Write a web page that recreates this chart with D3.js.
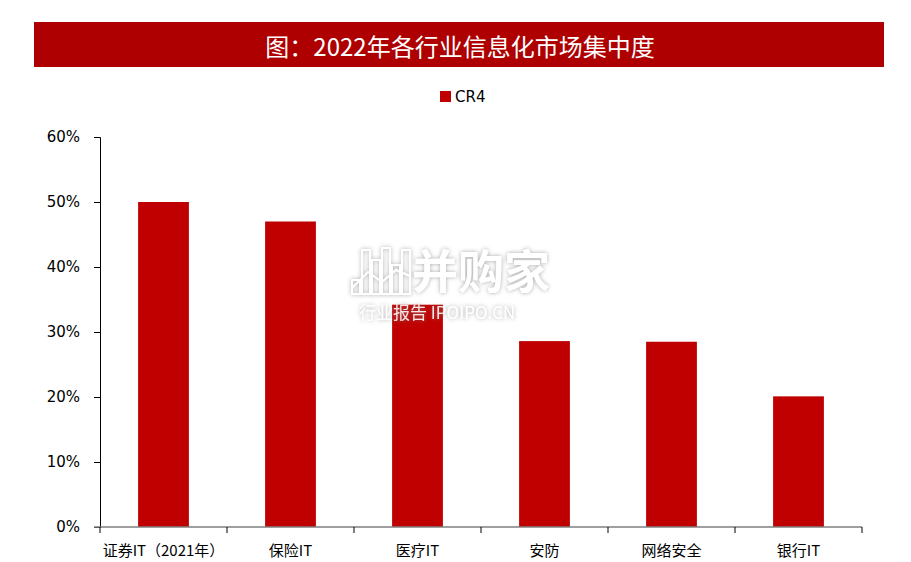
<!DOCTYPE html>
<html>
<head>
<meta charset="utf-8">
<script src="https://cdn.jsdelivr.net/npm/d3@7"></script>
<style>
  html, body { margin: 0; padding: 0; background: #fff; }
  svg { display: block; }
</style>
</head>
<body>
<svg id="chart" width="911" height="562"></svg>
<script>
const title = "图：2022年各行业信息化市场集中度";
const seriesName = "CR4";
const categories = ["证券IT（2021年）", "保险IT", "医疗IT", "安防", "网络安全", "银行IT"];
const values = [0.50, 0.47, 0.342, 0.286, 0.285, 0.201];
const yTicks = [0, 0.1, 0.2, 0.3, 0.4, 0.5, 0.6];

const svg = d3.select("#chart");
const red = "#C00000";
const bannerRed = "#AE0000";
const cjk = "'Noto Sans CJK SC', 'Noto Sans', sans-serif";

// Title banner
svg.append("rect").attr("x", 34).attr("y", 22).attr("width", 850).attr("height", 45).attr("fill", bannerRed);
svg.append("text").attr("x", 460).attr("y", 45).attr("text-anchor", "middle").attr("dominant-baseline", "central")
  .attr("fill", "#fff").attr("font-family", cjk).attr("font-size", 24).text(title);

// Legend
svg.append("rect").attr("x", 440).attr("y", 91).attr("width", 11).attr("height", 11).attr("fill", red);
svg.append("text").attr("x", 455).attr("y", 97).attr("dominant-baseline", "central")
  .attr("font-family", "'DejaVu Sans', sans-serif").attr("font-size", 15).attr("fill", "#000").text(seriesName);

const x = d3.scaleBand().domain(categories).range([100, 862]).paddingInner(0.6).paddingOuter(0.3);
const y = d3.scaleLinear().domain([0, 0.6]).range([527, 137]);

// Bars
svg.append("g").selectAll("rect").data(values).join("rect")
  .attr("x", (d, i) => x(categories[i]))
  .attr("y", d => y(d))
  .attr("width", x.bandwidth())
  .attr("height", d => y(0) - y(d))
  .attr("fill", red);

// Y axis
const yAxis = svg.append("g").attr("transform", "translate(100,0)")
  .call(d3.axisLeft(y).tickValues(yTicks).tickFormat(d3.format(".0%")).tickSizeOuter(0).tickSize(6).tickPadding(14));
yAxis.select(".domain").attr("stroke", "#000");
yAxis.selectAll(".tick line").attr("stroke", "#000");
yAxis.selectAll("text").attr("font-family", "'DejaVu Sans', sans-serif").attr("font-size", 15).attr("fill", "#000");

// X axis
const xAxisG = svg.append("g").attr("transform", "translate(0,527)");
xAxisG.append("line").attr("x1", 94).attr("x2", 862).attr("y1", 0).attr("y2", 0).attr("stroke", "#7f7f7f").attr("stroke-width", 1.5);
const bounds = categories.map(c => x(c) - x.step() * x.paddingInner() / 2).concat([862]);
bounds[0] = 100;
xAxisG.selectAll("line.tk").data(bounds).join("line").attr("class", "tk")
  .attr("x1", d => d).attr("x2", d => d).attr("y1", 0).attr("y2", 6).attr("stroke", "#000");
xAxisG.selectAll("text").data(categories).join("text")
  .attr("x", d => x(d) + x.bandwidth() / 2)
  .attr("y", 22).attr("text-anchor", "middle").attr("dominant-baseline", "central")
  .attr("font-family", cjk).attr("font-size", 15).attr("fill", "#000").text(d => d);

// Watermark
const defs = svg.append("defs");
const f = defs.append("filter").attr("id", "sh").attr("x", "-20%").attr("y", "-20%").attr("width", "140%").attr("height", "140%");
f.append("feDropShadow").attr("dx", 0).attr("dy", 0).attr("stdDeviation", 2).attr("flood-color", "#888").attr("flood-opacity", 0.8);
const wm = svg.append("g").attr("filter", "url(#sh)").attr("opacity", 0.9);
wm.append("text").attr("x", 412).attr("y", 288).attr("font-family", cjk).attr("font-weight", "bold")
  .attr("font-size", 46).attr("fill", "#fff").text("并购家");
wm.append("text").attr("x", 359).attr("y", 319).attr("font-family", cjk)
  .attr("font-size", 17).attr("fill", "#fff").text("行业报告 IPOIPO.CN");
const icon = wm.append("g").attr("fill", "none").attr("stroke", "#fff").attr("stroke-width", 2);
[[352, 280, 8, 14], [362, 250, 8, 44], [372, 260, 8, 34], [382, 248, 8, 46], [392, 265, 8, 29], [402, 250, 8, 44]]
  .forEach(r => icon.append("rect").attr("x", r[0]).attr("y", r[1]).attr("width", r[2]).attr("height", r[3]));
icon.append("polyline").attr("points", "352,288 368,272 382,282 396,270 410,276");
</script>
</body>
</html>
